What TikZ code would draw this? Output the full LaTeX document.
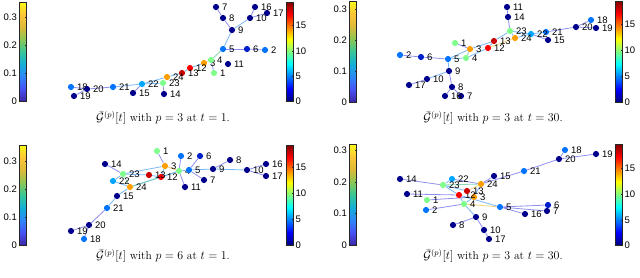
\documentclass[tikz,border=0pt]{standalone}
\usepackage{fontspec}
\setsansfont{Liberation Sans}
\usetikzlibrary{backgrounds}

% node colours (jet scale), one per vertex
\definecolor{jnavy}{rgb}{0,0,0.55}
\definecolor{jdblue}{rgb}{0,0.12,0.8}
\definecolor{jblue}{rgb}{0,0.45,1}
\definecolor{jlblue}{rgb}{0,0.65,1}
\definecolor{jgreen}{rgb}{0.5,1,0.55}
\definecolor{jorange}{rgb}{1,0.62,0}
\definecolor{jred}{rgb}{1,0,0}
\definecolor{jdred}{rgb}{0.8,0,0}
\colorlet{v1}{jgreen}\colorlet{v2}{jblue}\colorlet{v3}{jorange}\colorlet{v4}{jgreen}
\colorlet{v5}{jblue}\colorlet{v6}{jdblue}\colorlet{v7}{jnavy}\colorlet{v8}{jnavy}
\colorlet{v9}{jnavy}\colorlet{v10}{jnavy}\colorlet{v11}{jnavy}\colorlet{v12}{jred}
\colorlet{v13}{jdred}\colorlet{v14}{jnavy}\colorlet{v15}{jnavy}\colorlet{v16}{jnavy}
\colorlet{v17}{jnavy}\colorlet{v18}{jblue}\colorlet{v19}{jnavy}\colorlet{v20}{jnavy}
\colorlet{v21}{jblue}\colorlet{v22}{jlblue}\colorlet{v23}{jgreen}\colorlet{v24}{jorange}

% edge colours (parula scale)
\definecolor{ewlo}{rgb}{0.45,0.45,0.92}
\definecolor{ewmid}{rgb}{0.35,0.65,0.95}
\definecolor{ewgrn}{rgb}{0.4,0.8,0.65}
\definecolor{ewyel}{rgb}{0.95,0.78,0.35}

\pgfdeclareverticalshading{parula}{100bp}{rgb(0bp)=(0.24,0.15,0.66); rgb(25bp)=(0.24,0.15,0.66);
  rgb(31.25bp)=(0.28,0.32,0.96); rgb(37.5bp)=(0.18,0.53,0.97); rgb(43.75bp)=(0.07,0.69,0.84);
  rgb(50bp)=(0.22,0.78,0.59); rgb(56.25bp)=(0.55,0.78,0.33); rgb(62.5bp)=(0.87,0.73,0.22);
  rgb(68.75bp)=(0.99,0.78,0.21); rgb(75bp)=(0.98,0.98,0.08); rgb(100bp)=(0.98,0.98,0.08)}
\pgfdeclareverticalshading{jet}{100bp}{rgb(0bp)=(0,0,0.5); rgb(25bp)=(0,0,0.5);
  rgb(31.25bp)=(0,0,1); rgb(43.75bp)=(0,1,1); rgb(56.25bp)=(1,1,0);
  rgb(68.75bp)=(1,0,0); rgb(75bp)=(0.5,0,0); rgb(100bp)=(0.5,0,0)}

% colour bar: shading, x, top, bottom, label side (east/west), ticks value/y, prefix
\newcommand{\cbar}[7]{%
  \shade[shading=#1] (#2,#3) rectangle (#2+6.5,#4);
  \draw[barframe] (#2,#3) rectangle (#2+6.5,#4);
  \foreach \v/\ty [count=\k] in {#6} {
    \draw[bartick] (#2+6.5,\ty) -- ++(-1.5,0);
    \ifx#5w
      \node[ticklbl, anchor=east] (#7\k) at (#2-2.5,\ty) {\v};
    \else
      \node[ticklbl, anchor=west] (#7\k) at (#2+9,\ty) {\v};
    \fi
  }}

\begin{document}
\begin{tikzpicture}[x=1pt, y=-1pt,
    vtx/.style={circle, inner sep=0pt, minimum size=6.2pt, draw=none},
    lbl/.style={font=\sffamily\fontsize{9.5}{10}\selectfont, inner sep=0.5pt, label distance=2pt},
    ticklbl/.style={font=\sffamily\fontsize{9.5}{10}\selectfont, inner sep=0pt},
    edge/.style={line width=0.8pt, draw opacity=0.8},
    barframe/.style={draw=black!85, line width=0.6pt},
    bartick/.style={draw=black!85, line width=0.5pt},
    captext/.style={font=\fontsize{11.5}{13}\selectfont, inner sep=0pt}
  ]
  \useasboundingbox (0,0) rectangle (640,277);

  % colour bars
  \cbar{parula}{19.5}{2}{101}{w}{0/101, 0.1/73, 0.2/45, 0.3/17}{lbA}
  \cbar{jet}{286.5}{2}{101}{e}{0/101, 5/76, 10/51, 15/25}{rbA}
  \cbar{parula}{349.5}{1}{102}{w}{0/102, 0.1/71, 0.2/40, 0.3/9}{lbB}
  \cbar{jet}{615.5}{1}{102}{e}{0/102, 5/76, 10/50, 15/24}{rbB}
  \cbar{parula}{19.5}{145}{245}{w}{0/245, 0.1/217, 0.2/189, 0.3/161}{lbC}
  \cbar{jet}{286.5}{145}{245}{e}{0/245, 5/219, 10/193, 15/167}{rbC}
  \cbar{parula}{349.5}{144}{245}{w}{0/245, 0.1/213.5, 0.2/182, 0.3/150.5}{lbD}
  \cbar{jet}{615.5}{144}{245}{e}{0/245, 5/220, 10/194, 15/168}{rbD}

  % graph p=3, t=1
  \foreach \n/\x/\y in {1/214/73, 2/265/50, 3/204/63, 4/211/60, 5/223/49, 6/247/49,
      7/216/7, 8/223/18, 9/232/30, 10/250/18, 11/228/64, 12/190/68, 13/182/73,
      14/164/94, 15/133/93, 16/255/7, 17/267/13, 18/71/87, 19/74/96, 20/87/89,
      21/113/87, 22/142/84, 23/163/83, 24/167/77}
    \node[vtx, fill=v\n, label={[lbl]0:\n}] (A\n) at (\x,\y) {};
  % graph p=3, t=30
  \foreach \n/\x/\y in {1/455/43, 2/400/55, 3/470/49, 4/466/58, 5/448/59, 6/421/57,
      7/461/96, 8/452/87, 9/449/71, 10/427/79, 11/507/7, 12/488/48, 13/494/41,
      14/508/17, 15/548/40, 16/445/96, 17/409/85, 18/591/20, 19/596/28, 20/576/27,
      21/546/32, 22/531/34, 23/510/31, 24/515/38}
    \node[vtx, fill=v\n, label={[lbl]0:\n}] (B\n) at (\x,\y) {};
  % graph p=6, t=1
  \foreach \n/\x/\y in {1/157/151, 2/181/156, 3/165/166, 4/179/171, 5/189/170, 6/200/156,
      7/204/180, 8/230/160, 9/213/169, 10/247/170, 11/185/187, 12/161/177, 13/149/175,
      14/105/164, 15/117/196, 16/266/164, 17/266/176, 18/84/239, 19/71/231, 20/89/225,
      21/107/208, 22/113/181, 23/123/174, 24/130/187}
    \node[vtx, fill=v\n, label={[lbl]0:\n}] (C\n) at (\x,\y) {};
  % graph p=3, t=30 (second run)
  \foreach \n/\x/\y in {1/427/200, 2/426/210, 3/474/197, 4/464/204, 5/500/207, 6/548/205,
      7/547/211, 8/453/225, 9/476/217, 10/484/230, 11/407/194, 12/459/195, 13/467/191,
      14/400/179, 15/494/176, 16/525/214, 17/489/239, 18/565/150, 19/596/154, 20/559/159,
      21/524/171, 22/452/179, 23/443/185, 24/481/184}
    \node[vtx, fill=v\n, label={[lbl]0:\n}] (D\n) at (\x,\y) {};

  \begin{pgfonlayer}{background}
    \foreach \a/\b/\c in {7/8/ewlo, 8/9/ewlo, 9/10/ewmid, 10/16/ewlo, 10/17/ewlo, 9/5/ewmid,
        5/6/ewlo, 6/2/ewlo, 5/4/ewgrn, 4/3/ewyel, 4/1/ewlo, 3/12/ewmid, 12/13/ewmid,
        13/24/ewmid, 24/23/ewgrn, 23/14/ewlo, 23/22/ewmid, 24/22/ewmid, 22/21/ewmid,
        22/15/ewlo, 21/20/ewlo, 20/18/ewlo, 20/19/ewlo}
      \draw[edge, draw=\c] (A\a) -- (A\b);
    \foreach \a/\b/\c in {11/14/ewlo, 14/23/ewlo, 23/13/ewmid, 23/24/ewmid, 23/22/ewmid,
        24/22/ewmid, 22/21/ewmid, 21/20/ewlo, 20/18/ewlo, 20/19/ewlo, 22/15/ewlo,
        24/12/ewyel, 13/12/ewmid, 13/3/ewmid, 12/4/ewmid, 3/1/ewlo, 3/4/ewgrn, 3/5/ewmid,
        4/5/ewmid, 5/6/ewlo, 6/2/ewlo, 5/9/ewmid, 9/10/ewmid, 10/17/ewlo, 9/8/ewlo,
        8/16/ewlo, 8/7/ewlo}
      \draw[edge, draw=\c] (B\a) -- (B\b);
    \foreach \a/\b/\c in {1/3/ewlo, 2/4/ewlo, 6/5/ewlo, 14/23/ewlo, 23/13/ewmid, 23/22/ewmid,
        23/3/ewmid, 23/24/ewgrn, 22/24/ewmid, 24/12/ewmid, 24/4/ewgrn, 3/4/ewyel,
        3/12/ewmid, 13/12/ewmid, 12/4/ewmid, 4/5/ewmid, 4/11/ewlo, 5/7/ewlo, 5/9/ewmid,
        9/8/ewlo, 9/10/ewmid, 10/16/ewlo, 10/17/ewlo, 24/15/ewmid, 15/21/ewmid,
        21/20/ewlo, 20/19/ewlo, 20/18/ewlo}
      \draw[edge, draw=\c] (C\a) -- (C\b);
    \foreach \a/\b/\c in {18/20/ewlo, 19/20/ewlo, 20/21/ewlo, 21/24/ewlo, 15/24/ewlo,
        22/24/ewlo, 22/23/ewmid, 23/24/ewgrn, 14/23/ewlo, 23/13/ewmid, 23/12/ewmid,
        24/13/ewyel, 24/3/ewmid, 11/12/ewlo, 1/3/ewlo, 2/4/ewlo, 4/12/ewmid, 4/3/ewmid,
        4/5/ewyel, 4/9/ewmid, 12/5/ewmid, 5/6/ewlo, 5/7/ewlo, 5/16/ewlo, 9/8/ewlo,
        9/10/ewlo, 10/17/ewlo}
      \draw[edge, draw=\c] (D\a) -- (D\b);
  \end{pgfonlayer}

  % captions
  \node[captext] (capA) at (163,118) {$\bar{\mathcal{G}}^{(p)}[t]$ with $p=3$ at $t=1$.};
  \node[captext] (capB) at (493,118) {$\bar{\mathcal{G}}^{(p)}[t]$ with $p=3$ at $t=30$.};
  \node[captext] (capC) at (163,256) {$\bar{\mathcal{G}}^{(p)}[t]$ with $p=6$ at $t=1$.};
  \node[captext] (capD) at (493,256) {$\bar{\mathcal{G}}^{(p)}[t]$ with $p=3$ at $t=30$.};
\end{tikzpicture}
\end{document}
